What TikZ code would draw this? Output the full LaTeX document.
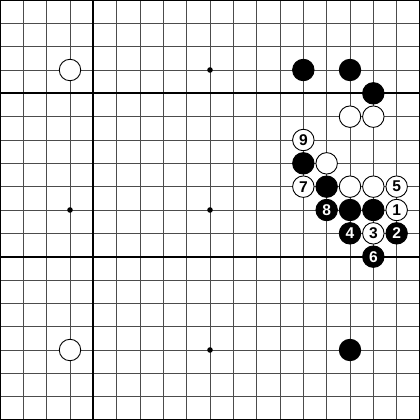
\documentclass[tikz,border=0pt]{standalone}
\usepackage{fontspec}
\setmainfont{Liberation Sans}
\usetikzlibrary{positioning}

\begin{document}
\begin{tikzpicture}[x=1cm,y=-1cm,node distance=1cm,on grid,
  gridline/.style={line width=1pt,black!70},
  boldline/.style={line width=2.4pt},
  wstone/.style={circle,draw,fill=white,line width=1.1pt,minimum size=0.92cm,
    inner sep=0pt,font=\fontsize{19}{19}\selectfont\bfseries},
  bstone/.style={wstone,fill=black,text=white},
  hoshi/.style={circle,fill=black,minimum size=0.24cm,inner sep=0pt}]
  \useasboundingbox (0,0) rectangle (18,18);
  % board
  \foreach \i in {1,...,17} {
    \draw[gridline] (\i,0) -- (\i,18);
    \draw[gridline] (0,\i) -- (18,\i);
  }
  \draw[boldline] (0,0) rectangle (18,18);
  \draw[boldline] (4,0) -- (4,18);
  \draw[boldline] (0,4) -- (18,4);
  \draw[boldline] (0,11) -- (18,11);
  \foreach \x/\y in {9/3,3/9,9/9,9/15}
    \node[hoshi] (h\x-\y) at (\x,\y) {};
  % stones on the board
  \foreach \x/\y in {3/3,3/15,15/5,16/5,14/7,15/8,16/8}
    \node[wstone] (w\x-\y) at (\x,\y) {};
  \foreach \x/\y in {13/3,15/3,16/4,13/7,14/8,15/9,16/9,15/15}
    \node[bstone] (b\x-\y) at (\x,\y) {};
  % moves
  \node[wstone] (m1) at (17,9) {1};
  \node[bstone] (m2) [below = of m1] {2};
  \node[wstone] (m3) [left = of m2] {3};
  \node[bstone] (m4) [left = of m3] {4};
  \node[wstone] (m5) [above = of m1] {5};
  \node[bstone] (m6) [below = of m3] {6};
  \node[wstone] (m7) at (13,8) {7};
  \node[bstone] (m8) at (14,9) {8};
  \node[wstone] (m9) at (13,6) {9};
\end{tikzpicture}
\end{document}
